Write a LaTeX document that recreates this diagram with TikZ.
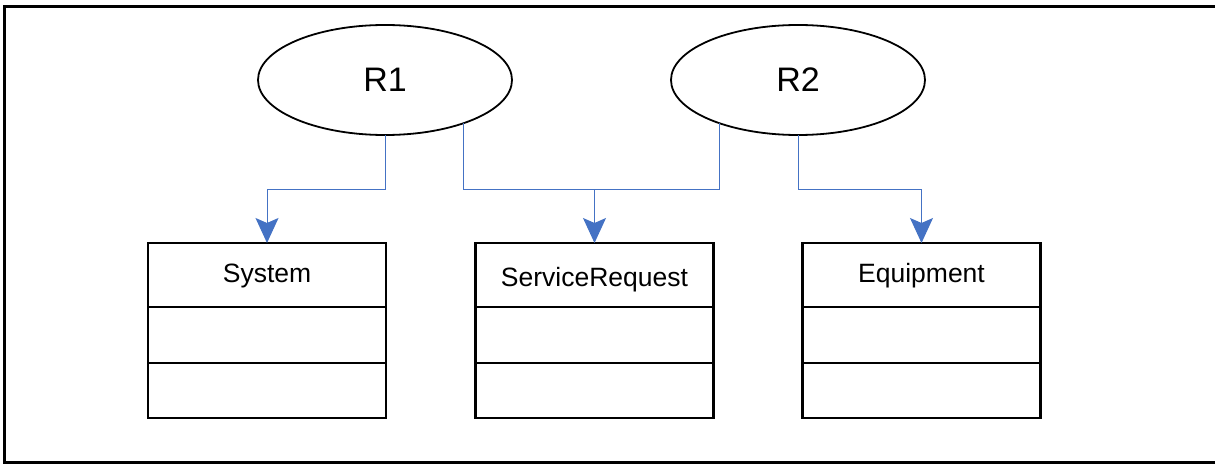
\documentclass[tikz,border=0pt]{standalone}
\usepackage{fontspec}
\setmainfont{Liberation Sans}
\usetikzlibrary{arrows.meta,positioning,shapes.geometric}
\definecolor{connblue}{RGB}{68,114,196}
\tikzset{
  x=1pt,y=-1pt,
  relation/.style={ellipse,draw=black,line width=1.8pt,minimum width=254pt,minimum height=110pt,inner sep=0pt,outer sep=0pt,font=\fontsize{34}{36}\selectfont},
  classhead/.style={rectangle,draw=black,line width=2.8pt,minimum width=238pt,minimum height=64pt,inner sep=0pt,outer sep=0pt,text height=19pt,text depth=5pt,font=\fontsize{26.5}{29}\selectfont},
  classrow/.style={rectangle,draw=black,line width=2.8pt,minimum width=238pt,minimum height=56pt,inner sep=0pt,outer sep=0pt},
  conn/.style={draw=connblue,line width=1pt,-{Stealth[length=25pt,width=23pt,inset=5pt]}},
  plain/.style={draw=connblue,line width=1pt},
  frame/.style={line width=3pt,line cap=rect}
}
\begin{document}
\begin{tikzpicture}
\useasboundingbox (0,0) rectangle (1215,465);
\draw[frame] (1216,6.5) -- (4,6.5) -- (4,462) -- (1216,462);

\node[relation] (R1) at (385,80) {R1};
\node[relation] (R2) at (798,80) {R2};

\node[classhead] (sysh) at (267,275) {System};
\node[classrow,anchor=north] (sysa) at (sysh.south) {};
\node[classrow,anchor=north,minimum height=55pt] (sysm) at (sysa.south) {};

\node[classhead] (srh) at (594.5,275) {\raisebox{-4pt}{ServiceRequest}};
\node[classrow,anchor=north] (sra) at (srh.south) {};
\node[classrow,anchor=north,minimum height=55pt] (srm) at (sra.south) {};

\node[classhead] (eqh) at (921.5,275) {Equipment};
\node[classrow,anchor=north] (eqa) at (eqh.south) {};
\node[classrow,anchor=north,minimum height=55pt] (eqm) at (eqa.south) {};

\coordinate (lvl) at (0,190);
\coordinate (jn) at (srh.north |- lvl);

\draw[conn] (R1.south) -- (R1.south |- lvl) -| (sysh.north);
\draw[plain] (R1.-29) -- (R1.-29 |- lvl) -- (jn);
\draw[plain] (R2.-151) -- (R2.-151 |- lvl) -- (jn);
\draw[conn] (jn) -- (srh.north);
\draw[conn] (R2.south) -- (R2.south |- lvl) -| (eqh.north);
\end{tikzpicture}
\end{document}
